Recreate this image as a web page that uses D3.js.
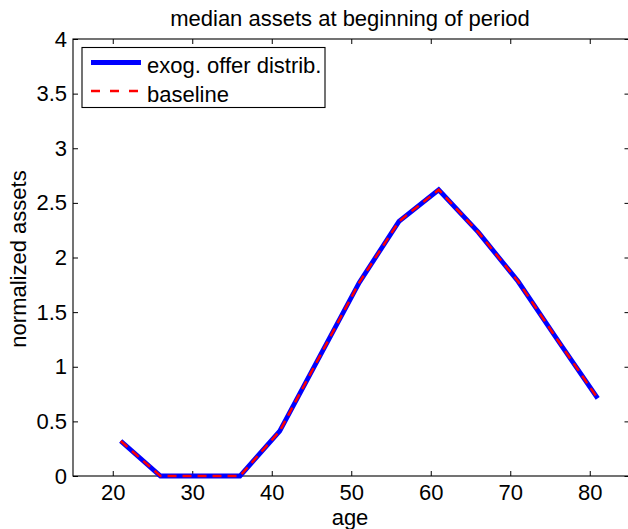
<!DOCTYPE html>
<html>
<head>
<meta charset="utf-8">
<script src="https://cdn.jsdelivr.net/npm/d3@7"></script>
<style>
  html, body { margin: 0; padding: 0; background: #fff; }
  svg text { font-family: "Liberation Sans", Arial, Helvetica, sans-serif; fill: #000; }
</style>
</head>
<body>
<svg id="chart" width="628" height="529"></svg>
<script>
// Age at the start of each period
const ages = [21, 26, 31, 36, 41, 46, 51, 56, 61, 66, 71, 76, 81];
// Median normalized assets, exogenous offer distribution
const exogOffer = [0.32, 0.0, 0.0, 0.0, 0.41, 1.09, 1.77, 2.33, 2.62, 2.23, 1.78, 1.24, 0.71];
// Median normalized assets, baseline model
const baseline = [0.32, 0.0, 0.0, 0.0, 0.41, 1.09, 1.77, 2.33, 2.62, 2.23, 1.78, 1.24, 0.71];
const xTicks = [20, 30, 40, 50, 60, 70, 80];
const yTicks = [0, 0.5, 1, 1.5, 2, 2.5, 3, 3.5, 4];
const seriesNames = ["exog. offer distrib.", "baseline"];

const svg = d3.select("#chart");
const plotL = 73, plotR = 629.5, plotT = 39, plotB = 476;

const x = d3.scaleLinear().domain([15, 85]).range([plotL, plotR]);
const y = d3.scaleLinear().domain([0, 4]).range([plotB, plotT]);

const tickLen = 5;
const fontSize = 22;

// Axes (ticks pointing inward, mirrored on top and right)
const axBottom = d3.axisBottom(x).tickValues(xTicks).tickSize(-tickLen).tickPadding(8.5).tickFormat(d3.format("d"));
const axTop = d3.axisTop(x).tickValues(xTicks).tickSize(-tickLen).tickFormat("");
const axLeft = d3.axisLeft(y).tickValues(yTicks).tickSize(-tickLen).tickPadding(6).tickFormat(d => String(d));
const axRight = d3.axisRight(y).tickValues(yTicks).tickSize(-tickLen).tickFormat("");

function styleAxis(g) {
  g.select(".domain").remove();
  g.selectAll(".tick line").attr("stroke", "#000").attr("stroke-width", 1);
  g.selectAll(".tick text").style("font-size", fontSize + "px").attr("fill", "#000");
}

svg.append("g").attr("transform", `translate(0,${plotB})`).call(axBottom).call(styleAxis);
svg.append("g").attr("transform", `translate(0,${plotT})`).call(axTop).call(styleAxis);
svg.append("g").attr("transform", `translate(${plotL},0)`).call(axLeft).call(styleAxis);
svg.append("g").attr("transform", `translate(${plotR},0)`).call(axRight).call(styleAxis);

// Axes box
svg.append("rect")
  .attr("x", plotL).attr("y", plotT)
  .attr("width", plotR - plotL).attr("height", plotB - plotT)
  .attr("fill", "none").attr("stroke", "#000").attr("stroke-width", 1.1);

// Lines
const line = d3.line().x((d, i) => x(ages[i])).y(d => y(d));

svg.append("path").datum(exogOffer)
  .attr("d", line)
  .attr("fill", "none").attr("stroke", "#0000ff").attr("stroke-width", 4.8)
  .attr("stroke-linejoin", "miter");

svg.append("path").datum(baseline)
  .attr("d", line)
  .attr("fill", "none").attr("stroke", "#ff0000").attr("stroke-width", 2.5)
  .attr("stroke-dasharray", "9,6");

// Title and axis labels
svg.append("text").attr("x", 350).attr("y", 26).attr("text-anchor", "middle")
  .style("font-size", fontSize + "px").text("median assets at beginning of period");
svg.append("text").attr("x", 350).attr("y", 525).attr("text-anchor", "middle")
  .style("font-size", fontSize + "px").text("age");
svg.append("text")
  .attr("transform", `translate(26,259) rotate(-90)`)
  .attr("text-anchor", "middle")
  .style("font-size", fontSize + "px").text("normalized assets");

// Legend
const lg = svg.append("g");
lg.append("rect").attr("x", 82).attr("y", 47.5).attr("width", 243).attr("height", 60)
  .attr("fill", "#fff").attr("stroke", "#000").attr("stroke-width", 1.1);
const legendItems = [
  { name: seriesNames[0], color: "#0000ff", width: 4.8, dash: null },
  { name: seriesNames[1], color: "#ff0000", width: 2.5, dash: "9,10" }
];
legendItems.forEach((it, i) => {
  const ly = 62.5 + i * 28.5;
  lg.append("line").attr("x1", 91).attr("x2", 141).attr("y1", ly).attr("y2", ly)
    .attr("stroke", it.color).attr("stroke-width", it.width)
    .attr("stroke-dasharray", it.dash);
  lg.append("text").attr("x", 147).attr("y", ly + 10.5)
    .style("font-size", fontSize + "px").text(it.name);
});
</script>
</body>
</html>
